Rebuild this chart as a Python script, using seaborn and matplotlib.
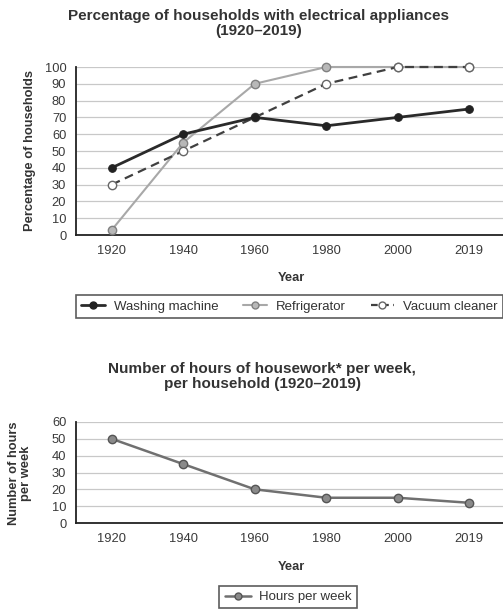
import matplotlib
matplotlib.use("Agg")
import matplotlib.pyplot as plt
import seaborn as sns
import pandas as pd
from matplotlib.lines import Line2D

years = ["1920", "1940", "1960", "1980", "2000", "2019"]
washing_machine = [40, 60, 70, 65, 70, 75]
refrigerator = [3, 55, 90, 100, 100, 100]
vacuum_cleaner = [30, 50, 70, 90, 100, 100]
hours_per_week = [50, 35, 20, 15, 15, 12]

sns.set_theme(style="white")
plt.rcParams['font.family'] = ['Liberation Sans', 'DejaVu Sans']

fig = plt.figure(figsize=(5.03, 6.10), dpi=100)
ax1 = fig.add_axes([76/503, 1-235/610, 429/503, 168/610])
ax2 = fig.add_axes([76/503, 1-523/610, 429/503, 101/610])

df1 = pd.DataFrame({"Year": years, "Washing machine": washing_machine,
                    "Refrigerator": refrigerator, "Vacuum cleaner": vacuum_cleaner})
df2 = pd.DataFrame({"Year": years, "Hours per week": hours_per_week})

grid_c = "#c8c8c8"
for ax in (ax1, ax2):
    ax.set_facecolor("white")
    ax.grid(axis="y", color=grid_c, lw=0.9)
    ax.set_axisbelow(True)
    for s in ("top", "right"):
        ax.spines[s].set_visible(False)
    for s in ("left", "bottom"):
        ax.spines[s].set_color("#222222")
        ax.spines[s].set_linewidth(1.3)
    ax.tick_params(axis="both", length=0, pad=7, labelsize=9.3, colors="#3a3a3a")

# top chart
sns.lineplot(data=df1, x="Year", y="Refrigerator", ax=ax1, color="#a8a8a8", lw=1.5,
             marker="o", markersize=6, markerfacecolor="#b8b8b8", markeredgecolor="#808080",
             markeredgewidth=1.0, sort=False, zorder=3)
sns.lineplot(data=df1, x="Year", y="Vacuum cleaner", ax=ax1, color="#404040", lw=1.6,
             marker="o", markersize=6, markerfacecolor="white", markeredgecolor="#666666",
             markeredgewidth=1.0, sort=False, zorder=4)
ax1.lines[-1].set_linestyle((0, (4, 2.5)))
sns.lineplot(data=df1, x="Year", y="Washing machine", ax=ax1, color="#2a2a2a", lw=2.0,
             marker="o", markersize=5.5, markerfacecolor="#222222", markeredgecolor="#222222",
             sort=False, zorder=5)
for ln in ax1.lines:
    ln.set_clip_on(False)

ax1.set_xlim(-0.5, 5.5)
ax1.set_ylim(0, 100)
ax1.set_yticks(range(0, 101, 10))
ax1.set_xlabel("")
ax1.set_ylabel("")

# bottom chart
sns.lineplot(data=df2, x="Year", y="Hours per week", ax=ax2, color="#707070", lw=1.8,
             marker="o", markersize=6, markerfacecolor="#8a8a8a", markeredgecolor="#555555",
             markeredgewidth=1.0, sort=False, zorder=3)
ax2.set_xlim(-0.5, 5.5)
ax2.set_ylim(0, 60)
ax2.set_yticks(range(0, 61, 10))
ax2.set_xlabel("")
ax2.set_ylabel("")

tc = "#333333"
fig.text(259/503, 1-23.5/610, "Percentage of households with electrical appliances\n(1920\u20132019)",
         ha="center", va="center", fontsize=11, fontweight="bold", color=tc, linespacing=1.1)
fig.text(262/503, 1-376.5/610, "Number of hours of housework* per week,\nper household (1920\u20132019)",
         ha="center", va="center", fontsize=11, fontweight="bold", color=tc, linespacing=1.1)
fig.text(30/503, 1-150/610, "Percentage of households", rotation=90, ha="center", va="center",
         fontsize=9.3, fontweight="bold", color=tc)
fig.text(20/503, 1-473/610, "Number of hours\nper week", rotation=90, ha="center", va="center",
         fontsize=9.3, fontweight="bold", color=tc, linespacing=0.95)
fig.text(291/503, 1-278/610, "Year", ha="center", va="center", fontsize=9.3, fontweight="bold", color=tc)
fig.text(291/503, 1-567/610, "Year", ha="center", va="center", fontsize=9.3, fontweight="bold", color=tc)

h1 = [Line2D([], [], color="#2a2a2a", lw=2.0, marker="o", markersize=5, markerfacecolor="#222222",
             markeredgecolor="#222222"),
      Line2D([], [], color="#a8a8a8", lw=1.5, marker="o", markersize=5, markerfacecolor="#b8b8b8",
             markeredgecolor="#808080"),
      Line2D([], [], color="#404040", lw=1.6, ls=(0, (3, 2)), marker="o", markersize=5,
             markerfacecolor="white", markeredgecolor="#666666")]
leg1 = fig.legend(h1, ["Washing machine", "Refrigerator", "Vacuum cleaner"], ncol=3,
                  loc="center left", bbox_to_anchor=(76/503, 1-306.5/610), fontsize=9.5,
                  frameon=True, fancybox=False, edgecolor="#333333", handlelength=1.8,
                  columnspacing=1.9, handletextpad=0.65, borderpad=0.4, borderaxespad=0)
leg1.get_frame().set_linewidth(1.2)
h2 = [Line2D([], [], color="#707070", lw=1.8, marker="o", markersize=5, markerfacecolor="#8a8a8a",
             markeredgecolor="#555555")]
leg2 = fig.legend(h2, ["Hours per week"], loc="center", bbox_to_anchor=(288/503, 1-597/610),
                  fontsize=9.5, frameon=True, fancybox=False, edgecolor="#333333",
                  handlelength=2.0, handletextpad=0.6, borderpad=0.4)
leg2.get_frame().set_linewidth(1.2)
for leg in (leg1, leg2):
    for t in leg.get_texts():
        t.set_color(tc)

fig.savefig("out.png", dpi=100, facecolor="white")
